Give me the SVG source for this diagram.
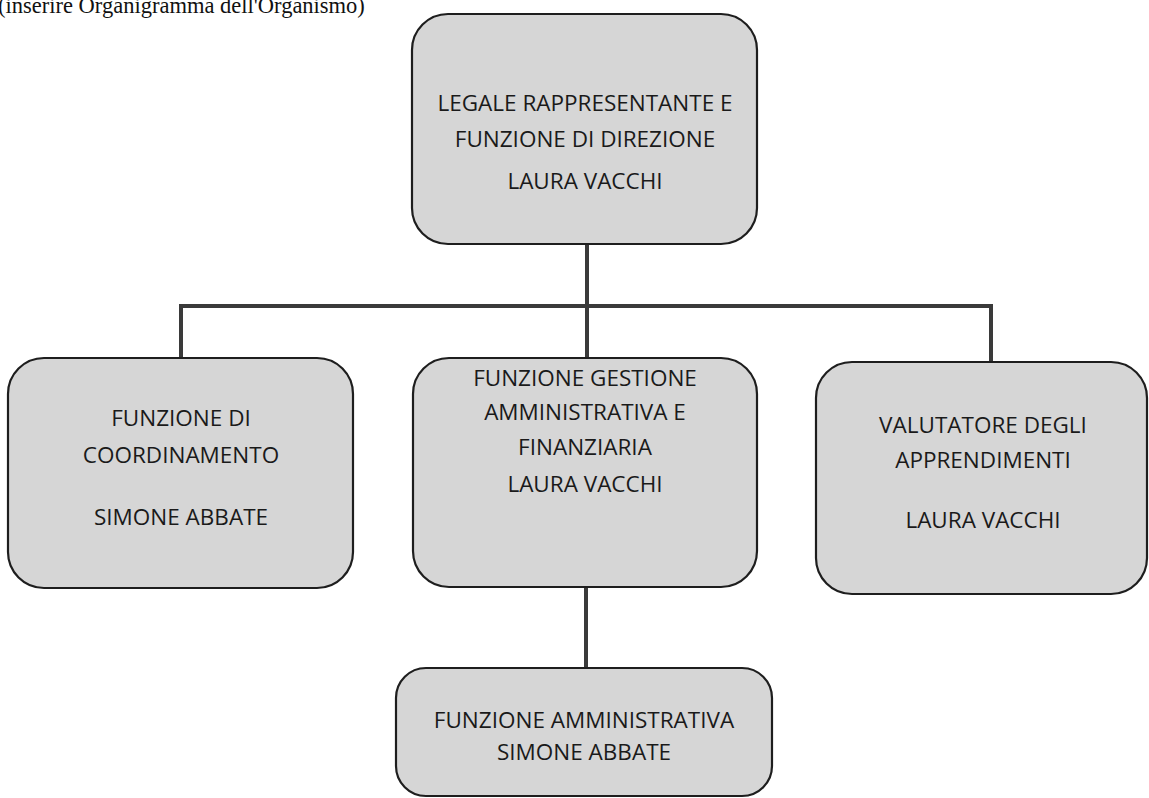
<svg xmlns="http://www.w3.org/2000/svg" width="1149" height="798" viewBox="0 0 1149 798">
<style>
.box{fill:#d6d6d6;stroke:#1e1e1e;stroke-width:2.2}
.t{font-family:"Open Sans","Liberation Sans",sans-serif;font-size:22.5px;fill:#1a1a1a;text-anchor:middle}
.c{fill:none;stroke:#3a3a3a;stroke-width:4}
.h{font-family:"Liberation Serif",serif;font-size:22.5px;fill:#111}
</style>
<rect width="1149" height="798" fill="#fff"/>
<text class="h" x="-2" y="13">(inserire Organigramma dell'Organismo)</text>
<g id="connectors">
<path class="c" d="M587,244 V306 M181,358 V306 H991 V362 M587,306 V358 M586,588 V668"/>
</g>
<g id="n-direzione">
<rect class="box" x="412" y="14" width="345" height="230" rx="36"/>
<text class="t" x="585" y="111">LEGALE RAPPRESENTANTE E</text>
<text class="t" x="585" y="147">FUNZIONE DI DIREZIONE</text>
<text class="t" x="585" y="189">LAURA VACCHI</text>
</g>
<g id="n-coordinamento">
<rect class="box" x="8" y="358" width="345" height="230" rx="36"/>
<text class="t" x="181" y="426">FUNZIONE DI</text>
<text class="t" x="181" y="463">COORDINAMENTO</text>
<text class="t" x="181" y="525">SIMONE ABBATE</text>
</g>
<g id="n-gestione">
<rect class="box" x="413" y="358" width="344" height="229" rx="36"/>
<text class="t" x="585" y="386">FUNZIONE GESTIONE</text>
<text class="t" x="585" y="420">AMMINISTRATIVA E</text>
<text class="t" x="585" y="455">FINANZIARIA</text>
<text class="t" x="585" y="492">LAURA VACCHI</text>
</g>
<g id="n-valutatore">
<rect class="box" x="816" y="362" width="331" height="232" rx="36"/>
<text class="t" x="983" y="433">VALUTATORE DEGLI</text>
<text class="t" x="983" y="468">APPRENDIMENTI</text>
<text class="t" x="983" y="528">LAURA VACCHI</text>
</g>
<g id="n-amministrativa">
<rect class="box" x="396" y="668" width="376" height="128" rx="30"/>
<text class="t" x="584" y="728">FUNZIONE AMMINISTRATIVA</text>
<text class="t" x="584" y="760">SIMONE ABBATE</text>
</g>
</svg>
